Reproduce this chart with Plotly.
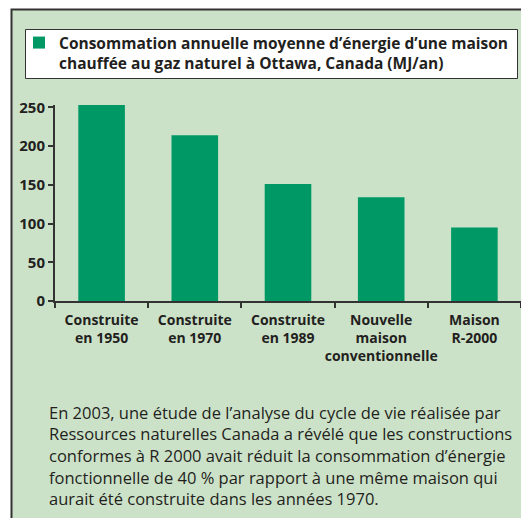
import plotly.graph_objects as go

categories = ["Construite<br>en 1950", "Construite<br>en 1970", "Construite<br>en 1989",
              "Nouvelle<br>maison<br>conventionnelle", "Maison<br>R-2000"]
values = [253, 214, 151, 134, 95]
series_name = "Consommation annuelle moyenne d’énergie d’une maison<br>chauffée au gaz naturel à Ottawa, Canada (MJ/an)"
y_ticks = [0, 50, 100, 150, 200, 250]
note_lines = [
    "En 2003, une étude de l’analyse du cycle de vie réalisée par",
    "Ressources naturelles Canada a révélé que les constructions",
    "conformes à R 2000 avait réduit la consommation d’énergie",
    "fonctionnelle de 40 % par rapport à une même maison qui",
    "aurait été construite dans les années 1970.",
]

W, H = 521, 518
L, R, T, B = 55, 0, 105, 217
PW, PH = W - L - R, H - T - B

def px(x):
    return (x - L) / PW

def py(y):
    return 1 - (y - T) / PH

TXT = "#231F20"
BG = "#CCE2C8"
BAR = "#009966"
FONT = "Open Sans"

fig = go.Figure()
fig.add_trace(go.Bar(x=categories, y=values, name=series_name, marker_color=BAR,
                     marker_line_width=0, showlegend=True))

shapes = [
    dict(type="rect", xref="paper", yref="paper", x0=px(11.5), x1=px(540), y0=py(540), y1=py(9.5),
         fillcolor=BG, line=dict(color="#333333", width=2), layer="below"),
    dict(type="rect", xref="paper", yref="paper", x0=px(25.5), x1=px(517.5), y0=py(78.5), y1=py(29.5),
         fillcolor="white", line=dict(color="#333333", width=1), layer="below"),
]

annotations = []
for i, line in enumerate(note_lines):
    annotations.append(dict(xref="paper", yref="paper", x=px(47), y=py(412 + i * 21.7),
                            xanchor="left", yanchor="middle", showarrow=False, text=line,
                            font=dict(family=FONT, size=16.5, color=TXT), align="left"))

fig.update_layout(
    width=W, height=H, margin=dict(l=L, r=R, t=T, b=B, pad=0, autoexpand=False),
    paper_bgcolor="white", plot_bgcolor="rgba(0,0,0,0)",
    bargap=0.5, shapes=shapes, annotations=annotations,
    legend=dict(x=px(19), y=py(26), xanchor="left", yanchor="top", bgcolor="rgba(0,0,0,0)",
                borderwidth=0, valign="top", font=dict(family=FONT, size=15.5, color=TXT,
                                                         weight="bold"), itemwidth=30),
    font=dict(family=FONT, color=TXT),
)
fig.update_xaxes(showgrid=False, showline=True, linecolor="#333333", linewidth=2,
                 ticks="outside", tickson="boundaries", ticklen=5, tickcolor="#333333", tickwidth=2,
                 tickfont=dict(family=FONT, size=14, color=TXT, weight="bold"), tickangle=0,
                 ticklabelstandoff=5,
                 automargin=False, range=[-0.5, 4.5], fixedrange=True)
fig.update_yaxes(showgrid=False, showline=True, linecolor="#333333", linewidth=2,
                 ticks="outside", ticklen=5, tickcolor="#333333", tickwidth=2,
                 tickvals=y_ticks, range=[0, 253], zeroline=False, automargin=False,
                 tickfont=dict(family=FONT, size=15, color=TXT, weight="bold"))

fig.write_html("out.html", config={"displayModeBar": False},
               post_script="document.body.style.margin='0';document.body.style.overflow='hidden';")
